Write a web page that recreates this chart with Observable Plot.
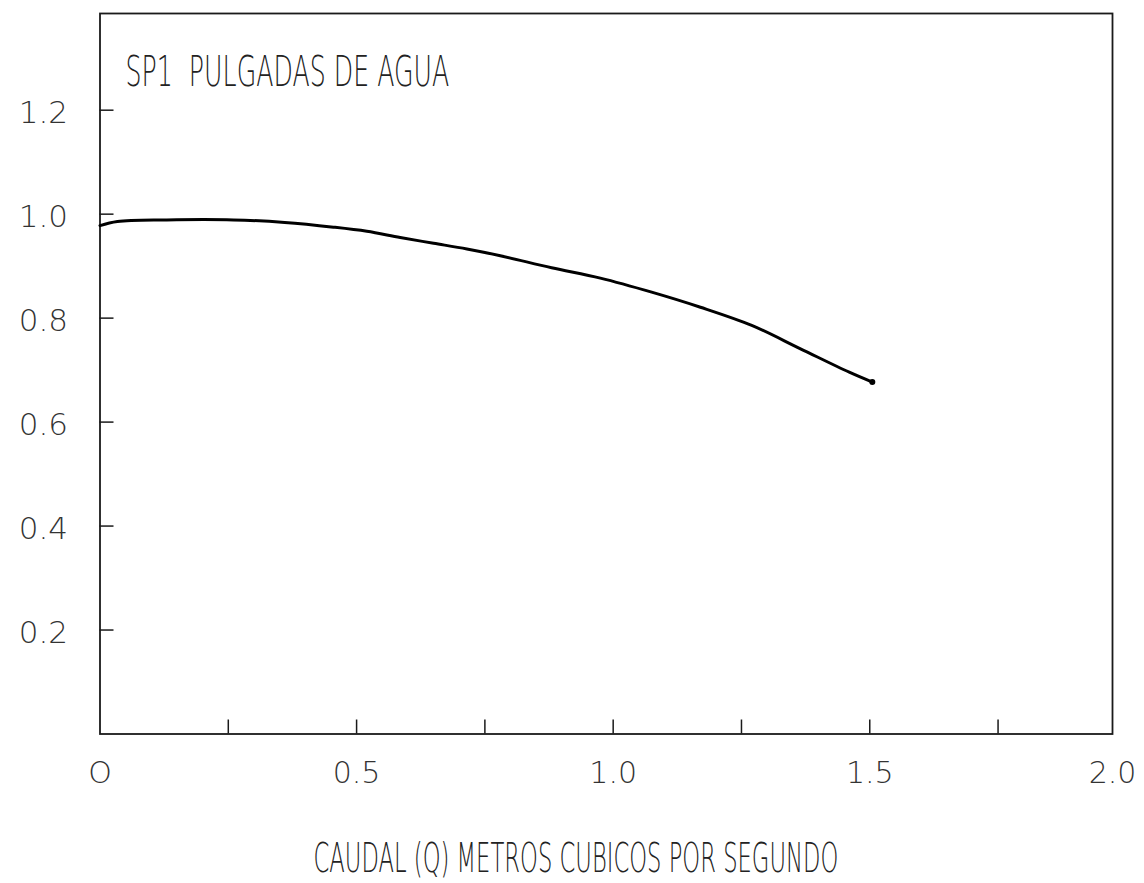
<!DOCTYPE html>
<html>
<head>
<meta charset="utf-8">
<script src="https://cdn.jsdelivr.net/npm/d3@7"></script>
<script src="https://cdn.jsdelivr.net/npm/@observablehq/plot@0.6"></script>
<style>
  html, body { margin: 0; padding: 0; background: #fff; }
  #chart svg { display: block; }
</style>
</head>
<body>
<div id="chart"></div>
<script>
// ---- data ----
const caudal = [0, 0.034, 0.13, 0.26, 0.36, 0.455, 0.52, 0.585, 0.65, 0.715, 0.78, 0.88, 0.975, 1.075, 1.17, 1.27, 1.365, 1.46, 1.505];
const sp1 =    [0.978, 0.986, 0.989, 0.989, 0.984, 0.975, 0.967, 0.955, 0.944, 0.933, 0.92, 0.897, 0.877, 0.85, 0.821, 0.786, 0.741, 0.696, 0.677];

const xMax = 1.973;
const yMax = 1.386;
const xTickValues = [0.25, 0.5, 0.75, 1.0, 1.25, 1.5, 1.75];
const xLabelValues = [0, 0.5, 1.0, 1.5, xMax];
const xTickLabels = ["O", "0.5", "1.0", "1.5", "2.0"];
const yTickValues = [0.2, 0.4, 0.6, 0.8, 1.0, 1.2];
const yTickLabels = ["0.2", "0.4", "0.6", "0.8", "1.0", "1.2"];

const titleText = "SP1\u00a0 PULGADAS DE AGUA";
const xAxisTitle = "CAUDAL (Q) METROS CUBICOS POR SEGUNDO";

const points = caudal.map((q, i) => ({q, v: sp1[i]}));
const xLabelMap = new Map(xLabelValues.map((v, i) => [v, xTickLabels[i]]));
const yLabelMap = new Map(yTickValues.map((v, i) => [v, yTickLabels[i]]));

const ink = "#1a1a1a";

const chart = Plot.plot({
  width: 1144,
  height: 883,
  marginLeft: 99.5,
  marginRight: 32,
  marginTop: 13,
  marginBottom: 149.5,
  style: {fontFamily: "DejaVu Sans", background: "#fff", color: ink},
  x: {domain: [0, xMax]},
  y: {domain: [0, yMax]},
  marks: [
    Plot.frame({stroke: ink, strokeWidth: 1.8}),
    // inward ticks
    Plot.axisX({ticks: xTickValues, tickSize: -14, fill: "none", label: null, stroke: ink, strokeWidth: 1.5}),
    Plot.axisY({ticks: yTickValues, tickSize: -14, fill: "none", label: null, stroke: ink, strokeWidth: 1.5}),
    // tick labels
    Plot.axisX({ticks: xLabelValues, tickSize: 0, tickPadding: 28, tickFormat: d => xLabelMap.get(d), label: null, fontSize: 30, fontWeight: 300, fill: "#333"}),
    Plot.axisY({ticks: yTickValues, tickSize: 0, tickPadding: 32, tickFormat: d => yLabelMap.get(d), label: null, fontSize: 31, fontWeight: 300, dy: 3, fill: "#333"}),
    // curve
    Plot.line(points, {x: "q", y: "v", stroke: "#000", strokeWidth: 3, curve: "catmull-rom"}),
    Plot.dot(points.slice(-1), {x: "q", y: "v", r: 3, fill: "#000"}),
    // title inside the frame
    Plot.text([titleText], {frameAnchor: "top-left", textAnchor: "start", lineAnchor: "top", dx: 25.5, dy: 42, fontSize: 43, fontWeight: 300, fill: "#222"}),
    // x-axis title
    Plot.text([xAxisTitle], {frameAnchor: "bottom-left", textAnchor: "start", lineAnchor: "top", dx: 213.5, dy: 110, fontSize: 40, fontWeight: 300, fill: "#222"})
  ]
});

document.getElementById("chart").appendChild(chart);

// condense the plotter-style lettering horizontally (about its anchor) to the reference widths
function condense(el, targetWidth) {
  const w = el.getComputedTextLength();
  if (!w) return;
  const s = targetWidth / w;
  const t = el.getAttribute("transform") || "";
  el.setAttribute("transform", `${t} scale(${s},1)`);
}
d3.select(chart).selectAll("text").each(function() {
  const t = this.textContent;
  if (t === titleText) condense(this, 324);
  else if (t === xAxisTitle) condense(this, 525);
});
</script>
</body>
</html>
